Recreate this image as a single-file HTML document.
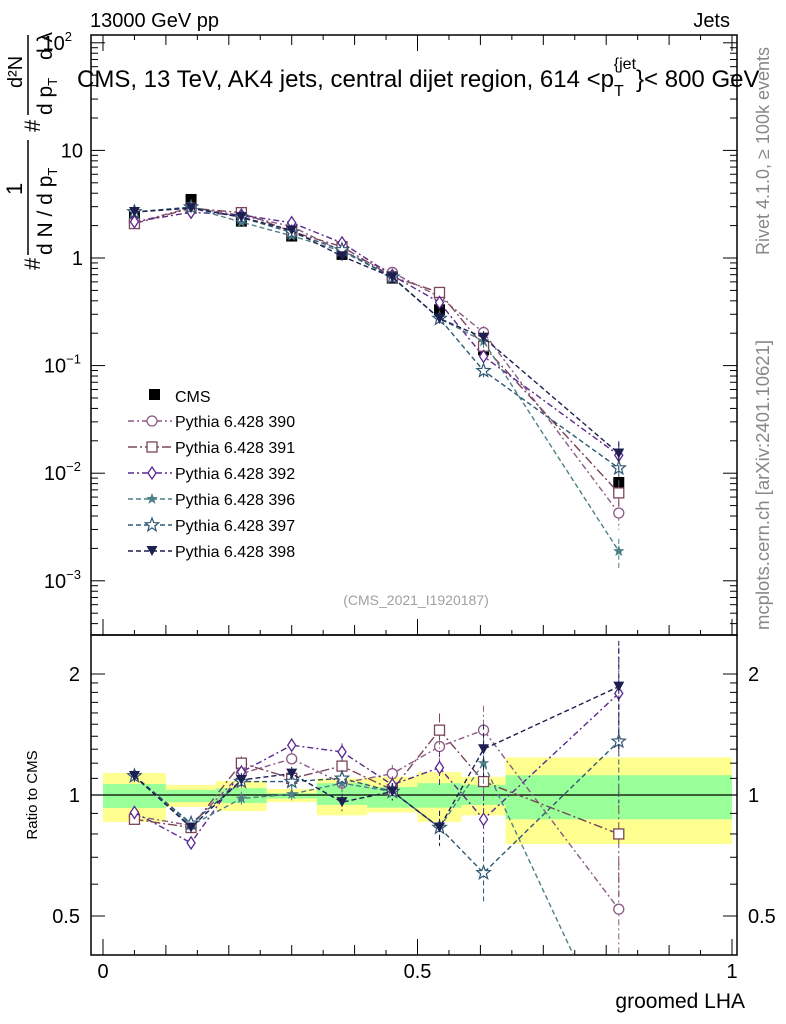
<!DOCTYPE html>
<html><head><meta charset="utf-8"><style>
html,body{margin:0;background:#fff;overflow:hidden;width:786px;height:1024px;}
svg{display:block;font-family:"Liberation Sans",sans-serif;}
</style></head><body>
<svg id="c" width="786" height="1024">
<g id="g"></g>
</svg>
<script>
const categories=[0.05,0.14,0.22,0.30,0.38,0.46,0.535,0.605,0.82];
const binEdges=[0,0.1,0.18,0.26,0.34,0.42,0.5,0.57,0.64,1.0];
const cmsValues=[2.4,3.5,2.2,1.6,1.08,0.65,0.33,0.14,0.0082];
const statUp=[1.065,1.03,1.04,1.01,1.07,1.047,1.07,1.06,1.12];
const statDn=[0.928,0.96,0.955,0.98,0.945,0.93,0.93,0.945,0.87];
const totUp=[1.134,1.059,1.083,1.035,1.10,1.11,1.14,1.11,1.24];
const totDn=[0.857,0.934,0.912,0.96,0.89,0.905,0.857,0.89,0.755];
const r390=[0.887,0.84,1.13,1.23,1.07,1.13,1.32,1.45,0.52];
const r391=[0.87,0.83,1.2,1.10,1.18,1.03,1.45,1.08,0.80];
const r392=[0.905,0.76,1.14,1.33,1.28,1.06,1.17,0.87,1.79];
const r396=[1.11,0.84,0.98,1.005,1.07,1.02,0.83,1.2,0.23];
const r397=[1.115,0.85,1.08,1.08,1.10,1.02,0.83,0.64,1.36];
const r398=[1.115,0.83,1.09,1.13,0.96,1.02,0.83,1.30,1.86];
const mcRelErr=[0.03,0.03,0.04,0.04,0.05,0.05,0.1,0.15,0.3];
const legendLabels=["Pythia 6.428 390","Pythia 6.428 391","Pythia 6.428 392","Pythia 6.428 396","Pythia 6.428 397","Pythia 6.428 398"];
const yTickVals=[100,10,1,0.1,0.01,0.001];
const yTickLabels=["10","10","1","10","10","10"];
const yTickExp=["2","","","−1","−2","−3"];
const rTickVals=[0.5,1,2];
const rTickLabels=["0.5","1","2"];
const xTickVals=[0,0.5,1];
const xTickLabels=["0","0.5","1"];

const NS="http://www.w3.org/2000/svg";
const G=document.getElementById('g');
function el(t,a,p){const e=document.createElementNS(NS,t);for(const k in a)e.setAttribute(k,a[k]);(p||G).appendChild(e);return e;}
const X0=91,X1=737,MT=35,MB=635,RB=955;
const x=v=>103+629*v;
const y=v=>258-107.6*Math.log10(v);
const yr=v=>795-402*Math.log10(v);

let f=el('rect',{x:X0,y:MT,width:X1-X0,height:MB-MT,fill:'none',stroke:'#000','stroke-width':1.5});

f=el('rect',{x:X0,y:MB,width:X1-X0,height:RB-MB,fill:'none',stroke:'#000','stroke-width':1.5});


for(let i=0;i<categories.length;i++){
 let b=el('rect',{x:x(binEdges[i]),y:yr(totUp[i]),width:x(binEdges[i+1])-x(binEdges[i]),height:yr(totDn[i])-yr(totUp[i]),fill:'#ffff90'});
 
 b=el('rect',{x:x(binEdges[i]),y:yr(statUp[i]),width:x(binEdges[i+1])-x(binEdges[i]),height:yr(statDn[i])-yr(statUp[i]),fill:'#99ff99'});
 
}
let l1=el('line',{x1:X0,x2:X1,y1:yr(1),y2:yr(1),stroke:'#000','stroke-width':1.3});


for(let d=-4;d<=2;d++){for(let m=1;m<10;m++){const v=m*Math.pow(10,d);const py=y(v);if(py<MT||py>MB)continue;const L=m==1?14:7;
 el('line',{x1:X0,x2:X0+L,y1:py,y2:py,stroke:'#000'});el('line',{x1:X1,x2:X1-L,y1:py,y2:py,stroke:'#000'});}}
yTickVals.forEach((v,i)=>{const t=el('text',{x:yTickExp[i]?(yTickExp[i].length>1?81:72):83,y:y(v)+7,'font-size':20,'text-anchor':'end'});t.textContent=yTickLabels[i];
 
 if(yTickExp[i]){const s=el('tspan',{dy:-9,'font-size':13},t);s.textContent=yTickExp[i];}
});
[0.4,0.5,0.6,0.7,0.8,0.9,1,1.1,1.2,1.3,1.4,1.5,1.6,1.7,1.8,1.9,2].forEach(v=>{const py=yr(v);if(py<MB||py>RB)return;const L=(v==0.5||v==1||v==2)?14:7;
 el('line',{x1:X0,x2:X0+L,y1:py,y2:py,stroke:'#000'});el('line',{x1:X1,x2:X1-L,y1:py,y2:py,stroke:'#000'});});
rTickVals.forEach((v,i)=>{let t=el('text',{x:80,y:yr(v)+7,'font-size':20,'text-anchor':'end'});t.textContent=rTickLabels[i];
 
 t=el('text',{x:748,y:yr(v)+7,'font-size':20});t.textContent=rTickLabels[i];
 });
for(let k=0;k<=20;k++){const v=k*0.05;const px=x(v);if(px>X1)continue;const L=k%10==0?16:(k%2==0?10:5);
 el('line',{x1:px,x2:px,y1:RB,y2:RB-L,stroke:'#000'});el('line',{x1:px,x2:px,y1:MB,y2:MB-L,stroke:'#000'});el('line',{x1:px,x2:px,y1:MT,y2:MT+L,stroke:'#000'});}
xTickVals.forEach((v,i)=>{const t=el('text',{x:x(v),y:978,'font-size':20,'text-anchor':'middle'});t.textContent=xTickLabels[i];
 });

const series=[
 {r:r390,c:'#8a5a86',d:'6,3,2,3',m:'circle'},
 {r:r391,c:'#7a4658',d:'9,3,2,3',m:'square'},
 {r:r392,c:'#5a2890',d:'6,3,2,3',m:'diamond'},
 {r:r396,c:'#4f7f88',d:'5,3',m:'star'},
 {r:r397,c:'#2f5872',d:'5,3',m:'ostar'},
 {r:r398,c:'#1c1f50',d:'5,3',m:'tri'}];
function starPts(cx,cy,R){let p=[];for(let k=0;k<10;k++){const a=-Math.PI/2+k*Math.PI/5;const rr=k%2?R*0.42:R;p.push((cx+rr*Math.cos(a)).toFixed(1)+','+(cy+rr*Math.sin(a)).toFixed(1));}return p.join(' ');}
function marker(s,px,py,name){let e;
 if(s.m=='circle')e=el('circle',{cx:px,cy:py,r:5,fill:'#fff',stroke:s.c,'stroke-width':1.3});
 else if(s.m=='square')e=el('rect',{x:px-5,y:py-5,width:10,height:10,fill:'#fff',stroke:s.c,'stroke-width':1.3});
 else if(s.m=='diamond')e=el('polygon',{points:`${px},${py-6} ${px+4},${py} ${px},${py+6} ${px-4},${py}`,fill:'#fff',stroke:s.c,'stroke-width':1.3});
 else if(s.m=='star')e=el('polygon',{points:starPts(px,py,6),fill:s.c});
 else if(s.m=='ostar')e=el('polygon',{points:starPts(px,py,7),fill:'#fff',stroke:s.c,'stroke-width':1.2});
 else e=el('polygon',{points:`${px-5.5},${py-5} ${px+5.5},${py-5} ${px},${py+5}`,fill:s.c});
 return e;}

const defs=el('defs',{});
const clip=el('clipPath',{id:'cm'},defs);el('rect',{x:X0,y:MT,width:X1-X0,height:MB-MT},clip);
const clip2=el('clipPath',{id:'cr'},defs);el('rect',{x:X0,y:MB,width:X1-X0,height:RB-MB},clip2);
const gm=el('g',{'clip-path':'url(#cm)'});const gr=el('g',{'clip-path':'url(#cr)'});



categories.forEach((cv,i)=>{const m=el('rect',{x:x(cv)-5.5,y:y(cmsValues[i])-5.5,width:11,height:11,fill:'#000'},gm);
 });

series.forEach((s,si)=>{
 const mainPts=categories.map((cv,i)=>[x(cv),y(cmsValues[i]*s.r[i])]);
 const ratPts=categories.map((cv,i)=>[x(cv),yr(s.r[i])]);
 let p=el('polyline',{points:mainPts.map(q=>q.join(',')).join(' '),fill:'none',stroke:s.c,'stroke-width':1.4,'stroke-dasharray':s.d},gm);
 
 p=el('polyline',{points:ratPts.map(q=>q.join(',')).join(' '),fill:'none',stroke:s.c,'stroke-width':1.4,'stroke-dasharray':s.d},gr);
 
 categories.forEach((cv,i)=>{
  const v=cmsValues[i]*s.r[i],e=mcRelErr[i];
  el('line',{x1:x(cv),x2:x(cv),y1:y(v*(1+e)),y2:y(v*Math.max(0.05,1-e)),stroke:s.c,'stroke-dasharray':s.d},gm);
  el('line',{x1:x(cv),x2:x(cv),y1:yr(s.r[i]*(1+e)),y2:yr(s.r[i]*Math.max(0.05,1-e)),stroke:s.c,'stroke-dasharray':s.d},gr);
  const mm=marker(s,x(cv),y(v),'series-'+legendLabels[si].slice(-3)+'-marker');gm.appendChild(mm);
  const mr=marker(s,x(cv),yr(s.r[i]),'ratio-'+legendLabels[si].slice(-3)+'-marker');gr.appendChild(mr);
 });
});

let t=el('rect',{x:149,y:389,width:11,height:11,fill:'#000'});
t=el('text',{x:175,y:402,'font-size':16});t.textContent='CMS';
series.forEach((s,si)=>{const ly=421+si*26;
 const ln=el('line',{x1:128,x2:172,y1:ly,y2:ly,stroke:s.c,'stroke-width':1.4,'stroke-dasharray':s.d});
 
 marker(s,152,ly,'legend-entry-marker');
 const tx=el('text',{x:175,y:ly+6,'font-size':16});tx.textContent=legendLabels[si];
 });

function txt(s,a,name){const e=el('text',a);e.textContent=s;return e;}
txt('13000 GeV pp',{x:90,y:27,'font-size':20},'beam-label');
txt('Jets',{x:730,y:27,'font-size':20,'text-anchor':'end'},'process-label');
const ti=txt('CMS, 13 TeV, AK4 jets, central dijet region, 614 <p',{x:77,y:87,'font-size':24},'plot-title');
let ts=el('tspan',{dy:9,'font-size':16},ti);ts.textContent='T';
ts=el('tspan',{dx:-10,dy:-27,'font-size':16},ti);ts.textContent='{jet';
ts=el('tspan',{dy:18,'font-size':24},ti);ts.textContent='}< 800 GeV';
txt('(CMS_2021_I1920187)',{x:416,y:605,'font-size':14,fill:'#a0a0a0','text-anchor':'middle'},'analysis-id');
txt('Rivet 4.1.0, ≥ 100k events',{x:0,y:0,'font-size':18,fill:'#888',transform:'translate(769,255) rotate(-90)'},'rivet-version');
txt('mcplots.cern.ch [arXiv:2401.10621]',{x:0,y:0,'font-size':18.5,fill:'#888',transform:'translate(769,630) rotate(-90)'},'mcplots-credit');
txt('Ratio to CMS',{x:0,y:0,'font-size':15,'text-anchor':'middle',transform:'translate(37,795) rotate(-90)'},'ratio-axis-title');
txt('groomed LHA',{x:745,y:1008,'font-size':21,'text-anchor':'end'},'x-axis-title');
const ya=el('g',{transform:'translate(30,160) rotate(-90)'});
const yt1=el('text',{x:-110,y:10,'font-size':22},ya);yt1.textContent='#';
el('line',{x1:-95,x2:20,y1:-2,y2:-2,stroke:'#000','stroke-width':1.5},ya);
const a=el('text',{x:-35,y:-8,'font-size':22},ya);a.textContent='1';
const b=el('text',{x:-95,y:22,'font-size':21},ya);b.textContent='d N / d p';
const bb=el('tspan',{dy:5,'font-size':13},b);bb.textContent='T';
const c2=el('text',{x:28,y:10,'font-size':22},ya);c2.textContent='#';
el('line',{x1:45,x2:125,y1:-2,y2:-2,stroke:'#000','stroke-width':1.5},ya);
const d=el('text',{x:72,y:-8,'font-size':20},ya);d.textContent='d²N';
const e2=el('text',{x:45,y:22,'font-size':21},ya);e2.textContent='d p';
const ee=el('tspan',{dy:5,'font-size':13},e2);ee.textContent='T';
const f2=el('text',{x:100,y:22,'font-size':21},ya);f2.textContent='d λ';
</script>
</body></html>
